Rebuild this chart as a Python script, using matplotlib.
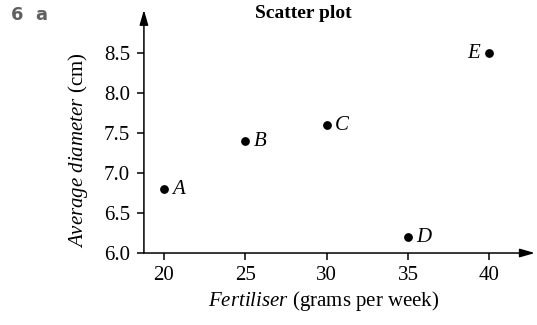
import matplotlib
matplotlib.use("Agg")
import matplotlib.pyplot as plt

plt.rcParams["font.family"] = "Liberation Serif"
plt.rcParams["mathtext.fontset"] = "custom"
plt.rcParams["mathtext.it"] = "Liberation Serif:italic"
plt.rcParams["mathtext.rm"] = "Liberation Serif"

# data
labels = ["A", "B", "C", "D", "E"]
fertiliser = [20, 25, 30, 35, 40]
diameter = [6.8, 7.4, 7.6, 6.2, 8.5]
x_ticks = [20, 25, 30, 35, 40]
y_ticks = [6.0, 6.5, 7.0, 7.5, 8.0, 8.5]

fig = plt.figure(figsize=(5.37, 3.25), dpi=100)
ax = fig.add_axes([0.268, 0.2215, 0.728, 0.748])

x_min, x_max = 18.77, 42.8
y_min, y_max = 6.0, 9.04
ax.set_xlim(x_min, x_max)
ax.set_ylim(y_min, y_max)

ax.scatter(fertiliser, diameter, s=28, color="black", zorder=5)
for lab, x, y in zip(labels, fertiliser, diameter):
    if lab == "E":
        ax.annotate(lab, (x, y), xytext=(-7, 0), textcoords="offset points",
                    ha="right", va="center", fontsize=15, style="italic")
    else:
        ax.annotate(lab, (x, y), xytext=(6, 0), textcoords="offset points",
                    ha="left", va="center", fontsize=15, style="italic")

for side in ["top", "right", "left", "bottom"]:
    ax.spines[side].set_visible(False)

# axes drawn as arrows
arrow = dict(arrowstyle="-|>,head_length=0.9,head_width=0.26", color="black",
             lw=1.1, shrinkA=0, shrinkB=0)
ax.annotate("", xy=(1.0, 0.0), xytext=(0.0, 0.0), xycoords="axes fraction",
            arrowprops=arrow, annotation_clip=False)
ax.annotate("", xy=(0.0, 1.0), xytext=(0.0, 0.0), xycoords="axes fraction",
            arrowprops=arrow, annotation_clip=False)

ax.set_xticks(x_ticks)
ax.set_yticks(y_ticks)
ax.set_yticklabels([f"{v:.1f}" for v in y_ticks])
ax.tick_params(axis="both", direction="out", length=5, width=1.1,
               labelsize=15, color="black", pad=4)
ax.tick_params(axis="y", pad=5)

ax.set_xlabel(r"$\mathit{Fertiliser}$ (grams per week)", fontsize=15)
ax.set_ylabel(r"$\mathit{Average\ diameter}$ (cm)", fontsize=15)
ax.xaxis.set_label_coords(0.46, -0.15)
ax.yaxis.set_label_coords(-0.138, 0.424)

fig.text(0.565, 0.957, "Scatter plot", ha="center", va="center",
         fontsize=14, fontweight="bold")
fig.text(0.02, 0.955, "6  a", ha="left", va="center", fontsize=13,
         fontweight="bold", color="#606060", family="Liberation Sans Narrow")

fig.savefig("out.png", dpi=100)
